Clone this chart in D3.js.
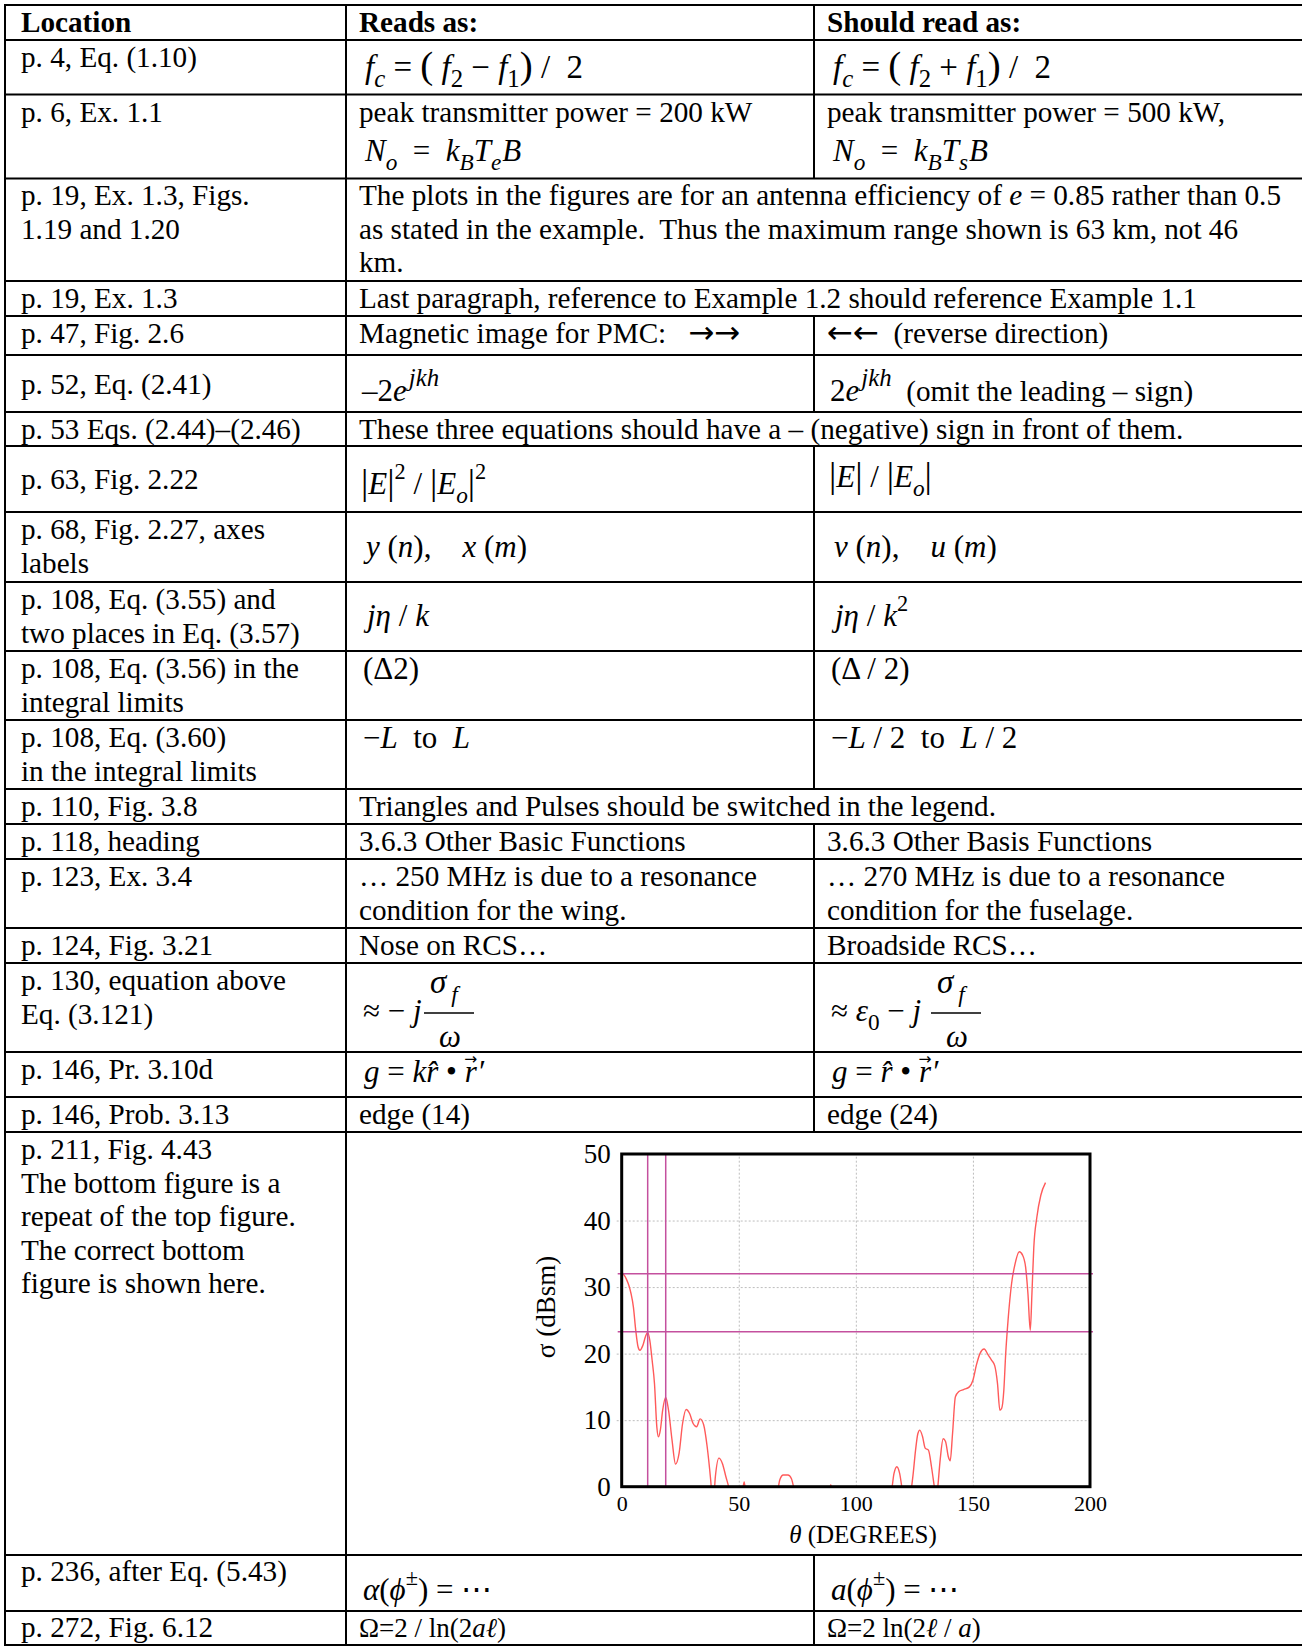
<!DOCTYPE html>
<html>
<head>
<meta charset="utf-8">
<script src="https://cdn.jsdelivr.net/npm/d3@7"></script>
<style>
body { margin: 0; background: #fff; }
svg { display: block; font-family: "Liberation Serif", "Times New Roman", serif; }
text { white-space: pre; }
</style>
</head>
<body>
<svg id="sheet" width="1302" height="1646"></svg>
<script>
// ---- chart data (Fig. 4.43, corrected bottom figure) ----
var theta = [0.5, 2, 3, 4, 5, 6, 7, 7.8, 9, 10.2, 11.1, 12, 13, 14, 15, 15.7, 16.5, 17.5, 18.8, 20,
	21.5, 23, 24.5, 26, 27.5, 29, 30.5, 32, 33.5, 35, 36.5, 38, 39, 40, 41.5, 43, 44.5, 46, 48, 51.5,
	52.3, 53, 56, 66, 67.5, 69, 71, 72.5, 74, 80, 88, 89.3, 90.5, 100, 115, 116.3, 117.5, 118.7, 120, 122,
	123.5, 124.5, 125.5, 126.5, 127.3, 128.5, 129.6, 131, 132.3, 133.5, 134.3, 135, 136, 137.3, 138.3, 139.5, 140.3, 141.3, 142.5, 144,
	146, 148.5, 150, 151.5, 153, 154.8, 156.5, 158, 159.3, 160.5, 161.5, 162.3, 163.2, 164, 165, 166.5, 168, 169.8, 171.2, 172.5,
	173.5, 174.5, 175.2, 176, 177.3, 179, 181];
var sigma = [32.1, 31.2, 30.3, 29, 27, 23.5, 21, 20.5, 21.2, 22.6, 23.2, 22, 19, 15.5, 9, 7.5, 8.5, 11.5, 13.4, 11.5,
	7, 3.4, 5, 9.5, 11.6, 11, 9.5, 9, 10.2, 9.3, 6, 1, -3, 1.5, 4.3, 3.5, 1.5, -0.5, -5, -1,
	0.7, -1, -6, -2, 1, 1.75, 1.75, 1.2, -1, -6, -2, 0.3, -2, -6, -1, 2, 3, 2, -1, -6,
	-1, 2, 5.5, 8, 8.5, 7.5, 5.8, 5.5, 3, 0, -2, 0, 4, 7.2, 6.8, 4.5, 3.9, 8, 13.5, 14.3,
	14.6, 15, 16, 18.3, 20, 20.7, 19.8, 19, 18.2, 15.5, 11.5, 11.8, 14.5, 20, 25, 30.5, 33.5, 35.3, 34.8, 33,
	29, 23.5, 29, 36, 40.5, 43.8, 45.7];
var refLevels = [32, 23.3];   // horizontal magenta markers (dBsm)
var refAngles = [11.1, 18.8]; // vertical magenta markers (deg)
var xTicks = [0, 50, 100, 150, 200];
var yTicks = [0, 10, 20, 30, 40, 50];
var xGrid = [50, 100, 150];
var yGrid = [10, 20, 30, 40];

// ---- table layout ----
var rowEdges = [5, 40, 94.5, 178.5, 281, 316, 355, 412, 446, 512, 582, 651, 720, 789, 824, 859, 928, 963, 1052, 1097, 1132, 1555, 1611, 1645];
var spanRows = [3, 4, 7, 13, 20];
var colLines = [5, 346, 814];
var colX = [21, 359, 827];
var TXT = 29.2, EQ = 31;

// cell text: c = column, y = first baseline, l = lines (string or [text, style, dx, [x, y], size] segments)
var cells = [
	{c: 0, y: 32, l: [[["Location", "b"]]]},
	{c: 1, y: 32, l: [[["Reads as:", "b"]]]},
	{c: 2, y: 32, l: [[["Should read as:", "b"]]]},

	{c: 0, y: 67, l: ["p. 4, Eq. (1.10)"]},
	{c: 1, y: 78, fs: 33, dx: 6, l: [[["f", "i"], ["c", "_i"], [" = ", ""], ["(", "L"], [" f", "i"], ["2", "_r"], [" − ", ""], ["f", "i"], ["1", "_r"], [")", "L"], [" /  2", ""]]]},
	{c: 2, y: 78, fs: 33, dx: 6, l: [[["f", "i"], ["c", "_i"], [" = ", ""], ["(", "L"], [" f", "i"], ["2", "_r"], [" + ", ""], ["f", "i"], ["1", "_r"], [")", "L"], [" /  2", ""]]]},

	{c: 0, y: 122, l: ["p. 6, Ex. 1.1"]},
	{c: 1, y: 122, l: ["peak transmitter power = 200 kW"]},
	{c: 1, y: 161, fs: EQ, dx: 6, l: [[["N", "i"], ["o", "_i"], ["  =  ", ""], ["k", "i"], ["B", "_i"], ["T", "i"], ["e", "_i"], ["B", "i", 1]]]},
	{c: 2, y: 122, l: ["peak transmitter power = 500 kW,"]},
	{c: 2, y: 161, fs: EQ, dx: 6, l: [[["N", "i"], ["o", "_i"], ["  =  ", ""], ["k", "i"], ["B", "_i"], ["T", "i"], ["s", "_i"], ["B", "i", 1]]]},

	{c: 0, y: 205, l: ["p. 19, Ex. 1.3, Figs.", "1.19 and 1.20"]},
	{c: 1, y: 205, l: [[["The plots in the figures are for an antenna efficiency of ", ""], ["e", "i"], [" = 0.85 rather than 0.5", ""]],
		"as stated in the example.  Thus the maximum range shown is 63 km, not 46", "km."]},

	{c: 0, y: 308, l: ["p. 19, Ex. 1.3"]},
	{c: 1, y: 308, l: ["Last paragraph, reference to Example 1.2 should reference Example 1.1"]},

	{c: 0, y: 343, l: ["p. 47, Fig. 2.6"]},
	{c: 1, y: 343, l: [[["Magnetic image for PMC:   ", ""], ["→→", "A"]]]},
	{c: 2, y: 343, l: [[["←←", "A"], ["  (reverse direction)", ""]]]},

	{c: 0, y: 394, l: ["p. 52, Eq. (2.41)"]},
	{c: 1, y: 401, fs: EQ, dx: 3, l: [[["–2", ""], ["e", "i"], ["jkh", "^I", 2]]]},
	{c: 2, y: 401, fs: EQ, dx: 3, l: [[["2", ""], ["e", "i"], ["jkh", "^I", 2], ["  (omit the leading – sign)", "t"]]]},

	{c: 0, y: 439, l: ["p. 53 Eqs. (2.44)–(2.46)"]},
	{c: 1, y: 439, l: ["These three equations should have a – (negative) sign in front of them."]},

	{c: 0, y: 489, l: ["p. 63, Fig. 2.22"]},
	{c: 1, y: 494, fs: EQ, dx: 2, l: [[["|", "L"], ["E", "i"], ["|", "L"], ["2", "^r"], [" / ", ""], ["|", "L"], ["E", "i"], ["o", "_i"], ["|", "L"], ["2", "^r"]]]},
	{c: 2, y: 487, fs: EQ, dx: 2, l: [[["|", "L"], ["E", "i"], ["|", "L"], [" / ", ""], ["|", "L"], ["E", "i"], ["o", "_i"], ["|", "L"]]]},

	{c: 0, y: 539, l: ["p. 68, Fig. 2.27, axes", "labels"]},
	{c: 1, y: 557, fs: EQ, dx: 7, l: [[["y", "i"], [" (", ""], ["n", "i"], ["),    ", ""], ["x", "i"], [" (", ""], ["m", "i"], [")", ""]]]},
	{c: 2, y: 557, fs: EQ, dx: 7, l: [[["v", "i"], [" (", ""], ["n", "i"], ["),    ", ""], ["u", "i"], [" (", ""], ["m", "i"], [")", ""]]]},

	{c: 0, y: 609, l: ["p. 108, Eq. (3.55) and", "two places in Eq. (3.57)"]},
	{c: 1, y: 626, fs: EQ, dx: 8, l: [[["jη", "i"], [" / ", ""], ["k", "i"]]]},
	{c: 2, y: 626, fs: EQ, dx: 8, l: [[["jη", "i"], [" / ", ""], ["k", "i"], ["2", "^r"]]]},

	{c: 0, y: 678, l: ["p. 108, Eq. (3.56) in the", "integral limits"]},
	{c: 1, y: 679, fs: EQ, dx: 4, l: ["(Δ2)"]},
	{c: 2, y: 679, fs: EQ, dx: 4, l: ["(Δ / 2)"]},

	{c: 0, y: 747, l: ["p. 108, Eq. (3.60)", "in the integral limits"]},
	{c: 1, y: 748, fs: EQ, dx: 4, l: [[["−", ""], ["L", "i"], ["  to  ", ""], ["L", "i"]]]},
	{c: 2, y: 748, fs: EQ, dx: 4, l: [[["−", ""], ["L", "i"], [" / 2  to  ", ""], ["L", "i"], [" / 2", ""]]]},

	{c: 0, y: 816, l: ["p. 110, Fig. 3.8"]},
	{c: 1, y: 816, l: ["Triangles and Pulses should be switched in the legend."]},

	{c: 0, y: 851, l: ["p. 118, heading"]},
	{c: 1, y: 851, l: ["3.6.3 Other Basic Functions"]},
	{c: 2, y: 851, l: ["3.6.3 Other Basis Functions"]},

	{c: 0, y: 886, l: ["p. 123, Ex. 3.4"]},
	{c: 1, y: 886, l: ["… 250 MHz is due to a resonance", "condition for the wing."]},
	{c: 2, y: 886, l: ["… 270 MHz is due to a resonance", "condition for the fuselage."]},

	{c: 0, y: 955, l: ["p. 124, Fig. 3.21"]},
	{c: 1, y: 955, l: ["Nose on RCS…"]},
	{c: 2, y: 955, l: ["Broadside RCS…"]},

	{c: 0, y: 990, l: ["p. 130, equation above", "Eq. (3.121)"]},
	{c: 1, y: 1021, fs: EQ, dx: 4, l: [[["≈ − ", ""], ["j", "i"], ["σ", "i", null, [430, 993], 33], ["f", "_i", 5], ["ω", "i", null, [439, 1047]]]]},
	{c: 2, y: 1021, fs: EQ, dx: 4, l: [[["≈ ", ""], ["ε", "i"], ["0", "_r"], [" − ", ""], ["j", "i"], ["σ", "i", null, [937, 993], 33], ["f", "_i", 5], ["ω", "i", null, [946, 1047]]]]},

	{c: 0, y: 1079, l: ["p. 146, Pr. 3.10d"]},
	{c: 1, y: 1082, fs: EQ, dx: 5, l: [[["g", "i"], [" = ", ""], ["kr\u0302", "i"], [" • ", ""], ["r", "i"], ["→", "v", -12.5], ["′", "i", 0]]]},
	{c: 2, y: 1082, fs: EQ, dx: 5, l: [[["g", "i"], [" = ", ""], ["r\u0302", "i"], [" • ", ""], ["r", "i"], ["→", "v", -12.5], ["′", "i", 0]]]},

	{c: 0, y: 1124, l: ["p. 146, Prob. 3.13"]},
	{c: 1, y: 1124, l: ["edge (14)"]},
	{c: 2, y: 1124, l: ["edge (24)"]},

	{c: 0, y: 1159, l: ["p. 211, Fig. 4.43", "The bottom figure is a", "repeat of the top figure.", "The correct bottom", "figure is shown here."]},

	{c: 0, y: 1581, l: ["p. 236, after Eq. (5.43)"]},
	{c: 1, y: 1600, fs: EQ, dx: 4, l: [[["α", "i"], ["(", ""], ["ϕ", "i"], ["±", "^r"], [") = ⋯", ""]]]},
	{c: 2, y: 1600, fs: EQ, dx: 4, l: [[["a", "i"], ["(", ""], ["ϕ", "i"], ["±", "^r"], [") = ⋯", ""]]]},

	{c: 0, y: 1637, l: ["p. 272, Fig. 6.12"]},
	{c: 1, y: 1637, fs: 27, l: [[["Ω=2 / ln(2", ""], ["aℓ", "i"], [")", ""]]]},
	{c: 2, y: 1637, fs: 27, l: [[["Ω=2 ln(2", ""], ["ℓ", "i"], [" / ", ""], ["a", "i"], [")", ""]]]}
];
var fracBars = [[424, 474, 1013], [931, 981, 1013]];

var svg = d3.select("#sheet");

// ---- table grid ----
var grid = svg.append("g").attr("stroke", "#000").attr("stroke-width", 2);
rowEdges.forEach(function (yy) {
	grid.append("line").attr("x1", 4).attr("x2", 1302).attr("y1", yy).attr("y2", yy);
});
for (var r = 0; r < rowEdges.length - 1; r++) {
	colLines.forEach(function (xx, ci) {
		if (ci == 2 && spanRows.indexOf(r) >= 0) return;
		grid.append("line").attr("x1", xx).attr("x2", xx).attr("y1", rowEdges[r]).attr("y2", rowEdges[r + 1]);
	});
}
fracBars.forEach(function (b) {
	svg.append("line").attr("x1", b[0]).attr("x2", b[1]).attr("y1", b[2]).attr("y2", b[2])
		.attr("stroke", "#000").attr("stroke-width", 1.3);
});

// ---- table text ----
function addCell(cell) {
	var fs = cell.fs || TXT, gap = cell.gap || 33.6;
	var x0 = cell.x != null ? cell.x : colX[cell.c] + (cell.dx || 0);
	cell.l.forEach(function (line, k) {
		var segs = typeof line === "string" ? [[line, ""]] : line;
		var t = svg.append("text").attr("x", x0).attr("y", cell.y + k * gap).attr("font-size", fs);
		var cur = 0;
		segs.forEach(function (s) {
			var st = s[1], size = fs, off = 0;
			if (st[0] === "_") { size = fs * 0.75; off = fs * 0.28; }
			else if (st[0] === "^") { size = fs * (st[1] === "I" ? 0.8 : 0.72); off = -fs * 0.48; }
			if (st.indexOf("L") >= 0) size = fs * 1.18;
			if (st.indexOf("t") >= 0) size = TXT;
			if (st.indexOf("v") >= 0) { size = fs * 0.5; off = -fs * 0.58; }
			var ts = t.append("tspan").text(s[0]);
			if (s[3]) {
				// absolutely placed piece (fraction numerator / denominator)
				ts.attr("x", s[3][0]).attr("y", s[3][1]).attr("font-size", s[4] || size);
				cur = 0;
			} else {
				ts.attr("font-size", size).attr("dy", off - cur);
				cur = off;
			}
			if (st.indexOf("i") >= 0 || st.indexOf("I") >= 0) ts.attr("font-style", "italic");
			if (st.indexOf("b") >= 0) ts.attr("font-weight", "bold");
			if (st.indexOf("A") >= 0) ts.attr("font-family", "DejaVu Sans").attr("font-size", 31);
			if (st.indexOf("v") >= 0) ts.attr("font-family", "DejaVu Sans");
			if (s[2] != null) ts.attr("dx", s[2]);
		});
	});
}
cells.forEach(addCell);

// ---- chart ----
var x = d3.scaleLinear().domain([0, 200]).range([621.7, 1090]);
var y = d3.scaleLinear().domain([0, 50]).range([1486.7, 1154]);
var pw = x(200) - x(0), ph = y(0) - y(50);

svg.append("defs").append("clipPath").attr("id", "plotclip")
	.append("rect").attr("x", x(0)).attr("y", y(50)).attr("width", pw).attr("height", ph);

var gx = svg.append("g").attr("transform", "translate(0," + y(0) + ")")
	.call(d3.axisBottom(x).tickValues(xGrid).tickSize(-ph).tickFormat(""));
gx.select(".domain").remove();
gx.selectAll("line").attr("stroke", "#bdbdbd").attr("stroke-dasharray", "2,2");

var gy = svg.append("g").attr("transform", "translate(" + x(0) + ",0)")
	.call(d3.axisLeft(y).tickValues(yGrid).tickSize(-pw).tickFormat(""));
gy.select(".domain").remove();
gy.selectAll("line").attr("stroke", "#bdbdbd").attr("stroke-dasharray", "2,2").attr("x1", -5);

var pts = theta.map(function (t, i) { return [t, sigma[i]]; });
svg.append("path")
	.datum(pts)
	.attr("clip-path", "url(#plotclip)")
	.attr("fill", "none")
	.attr("stroke", "#ff5a5a")
	.attr("stroke-width", 1.4)
	.attr("d", d3.line()
		.x(function (d) { return x(d[0]); })
		.y(function (d) { return y(d[1]); })
		.curve(d3.curveMonotoneX));

svg.selectAll(".hmark").data(refLevels).enter().append("line")
	.attr("class", "hmark")
	.attr("x1", x(0) - 4).attr("x2", x(200) + 3)
	.attr("y1", function (d) { return y(d); }).attr("y2", function (d) { return y(d); })
	.attr("stroke", "#c4509e").attr("stroke-width", 1.5);

svg.selectAll(".vmark").data(refAngles).enter().append("line")
	.attr("class", "vmark")
	.attr("x1", function (d) { return x(d); }).attr("x2", function (d) { return x(d); })
	.attr("y1", y(50)).attr("y2", y(0))
	.attr("stroke", "#c4509e").attr("stroke-width", 1.5);

svg.append("rect")
	.attr("x", x(0)).attr("y", y(50)).attr("width", pw).attr("height", ph)
	.attr("fill", "none").attr("stroke", "#000").attr("stroke-width", 3);

var ly = svg.append("g").attr("transform", "translate(" + x(0) + ",0)")
	.call(d3.axisLeft(y).tickValues(yTicks).tickSize(0).tickPadding(11).tickFormat(d3.format("d")));
ly.select(".domain").remove();
ly.attr("font-family", null).attr("font-size", 27);
ly.selectAll("text").attr("fill", "#000");

var lx = svg.append("g").attr("transform", "translate(0," + y(0) + ")")
	.call(d3.axisBottom(x).tickValues(xTicks).tickSize(0).tickPadding(8.5).tickFormat(d3.format("d")));
lx.select(".domain").remove();
lx.attr("font-family", null).attr("font-size", 22);
lx.selectAll("text").attr("fill", "#000");

var xt = svg.append("text").attr("x", 863).attr("y", 1543).attr("text-anchor", "middle").attr("font-size", 25);
xt.append("tspan").attr("font-style", "italic").text("θ");
xt.append("tspan").text(" (DEGREES)");

svg.append("text")
	.attr("transform", "translate(555,1307) rotate(-90)")
	.attr("text-anchor", "middle")
	.attr("font-size", 27)
	.text("σ (dBsm)");
</script>
</body>
</html>
